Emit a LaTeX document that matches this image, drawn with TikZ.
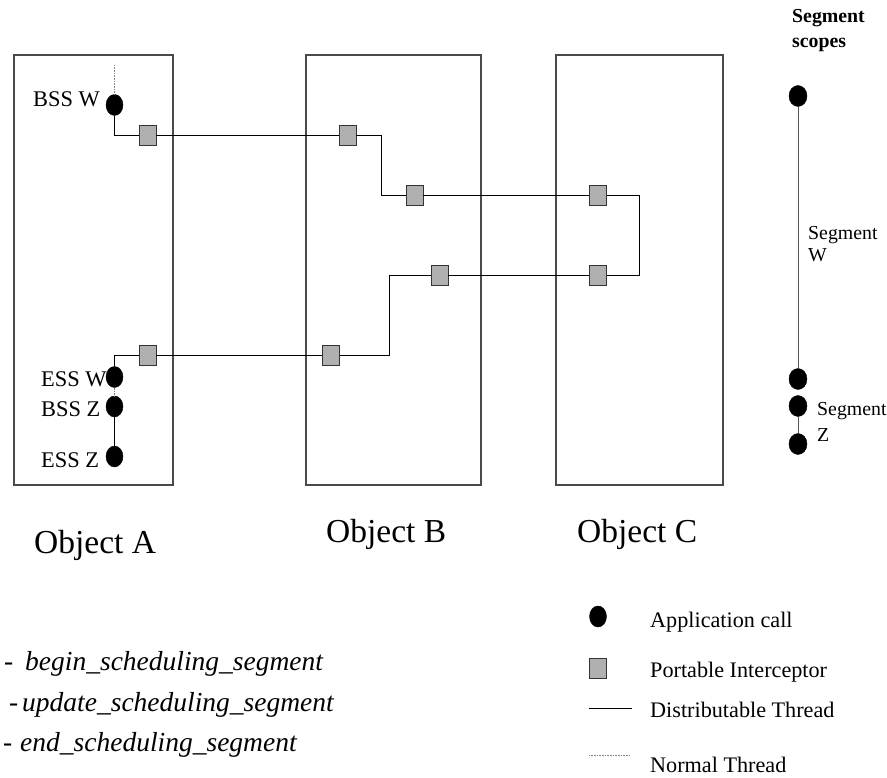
\documentclass[tikz,border=0pt]{standalone}
\usepackage{fontspec}
\setmainfont{Liberation Serif}
\usetikzlibrary{shapes.geometric}
\definecolor{boxline}{HTML}{4A4A4A}
\definecolor{icfill}{HTML}{B0B0B0}
\definecolor{scopeline}{HTML}{555555}
\tikzset{
  objbox/.style={draw=boxline, line width=1.1pt},
  appcall/.style={ellipse, fill=black, draw=black, minimum width=17pt, minimum height=21pt, inner sep=0pt},
  icpt/.style={rectangle, fill=icfill, draw=black!80, line width=0.9pt, minimum width=17pt, minimum height=20pt, inner sep=0pt},
  dthread/.style={draw=black, line width=0.8pt},
  nthread/.style={draw=gray, line width=0.6pt, dash pattern=on 0.8pt off 0.8pt},
  scopethread/.style={draw=scopeline, line width=0.8pt},
  lbl/.style={inner sep=0pt, font=\fontsize{22.4}{26}\selectfont},
  objlbl/.style={inner sep=0pt, font=\fontsize{33.5}{38}\selectfont},
  leglbl/.style={inner sep=0pt, font=\fontsize{22.2}{26}\selectfont},
  seglbl/.style={inner sep=0pt, font=\fontsize{19.8}{23}\selectfont},
  keylbl/.style={inner sep=0pt, font=\fontsize{27.5}{32}\selectfont}
}
\begin{document}
\begin{tikzpicture}[x=1pt,y=-1pt]
\useasboundingbox (0,0) rectangle (887,778);

% object boxes
\draw[objbox] (14,55) rectangle (173,485);
\draw[objbox] (306,55) rectangle (481,485);
\draw[objbox] (556,55) rectangle (723,485);

% application calls in object A
\node[appcall] (bssw) at (114.5,105) {};
\node[appcall] (essw) at (114.5,377) {};
\node[appcall] (bssz) at (114.5,406.5) {};
\node[appcall] (essz) at (114.5,456.5) {};
\coordinate (ntop) at (114.5,65);

% interceptors
\node[icpt] (iA1) at (147.5,135.5) {};
\node[icpt] (iB1) at (347.5,135.5) {};
\node[icpt] (iB2) at (414.5,195.5) {};
\node[icpt] (iC1) at (598,195.5) {};
\node[icpt] (iC2) at (598,275.3) {};
\node[icpt] (iB3) at (439.5,275.3) {};
\node[icpt] (iB4) at (331,355) {};
\node[icpt] (iA2) at (147.5,355) {};

\coordinate (k1) at (381,195.5);
\coordinate (k2) at (639.3,275.3);
\coordinate (k3) at (389.3,355);

% distributable thread
\draw[dthread] (bssw) |- (iA1);
\draw[dthread] (iA1) -- (iB1);
\draw[dthread] (iB1) -| (k1) -- (iB2);
\draw[dthread] (iB2) -- (iC1);
\draw[dthread] (iC1) -| (k2) -- (iC2);
\draw[dthread] (iC2) -- (iB3);
\draw[dthread] (iB3) -| (k3) -- (iB4);
\draw[dthread] (iB4) -- (iA2);
\draw[dthread] (iA2) -| (essw);
\draw[dthread] (bssz) -- (essz);

% normal thread
\draw[nthread] (ntop) -- (bssw);
\draw[nthread] (essw) -- (bssz);

% labels in object A
\node[lbl, anchor=base west] (tbssw) at (33,106.7) {BSS W};
\node[lbl, anchor=base west] (tessw) at (41,386.7) {ESS W};
\node[lbl, anchor=base west] (tbssz) at (41,416.7) {BSS Z};
\node[lbl, anchor=base west] (tessz) at (41,467.7) {ESS Z};

% object labels
\node[objlbl, anchor=base west] (oA) at (34,553) {Object A};
\node[objlbl, anchor=base west] (oB) at (326,542) {Object B};
\node[objlbl, anchor=base west] (oC) at (577,542) {Object C};

% segment scopes
\node[seglbl, anchor=base west] (ss1) at (792,23) {\bfseries Segment};
\node[seglbl, anchor=base west] (ss2) at (792,48) {\bfseries scopes};
\node[appcall, minimum width=18pt] (sw1) at (798,96) {};
\node[appcall, minimum width=18pt] (sw2) at (798,379) {};
\node[appcall, minimum width=18pt] (sz1) at (798,406) {};
\node[appcall, minimum width=18pt] (sz2) at (798,444) {};
\draw[scopethread] (sw1) -- (sw2);
\draw[scopethread] (sz1) -- (sz2);
\node[seglbl, anchor=base west] (swl1) at (808,240) {Segment};
\node[seglbl, anchor=base west] (swl2) at (808,262) {W};
\node[seglbl, anchor=base west] (szl1) at (817,415) {Segment};
\node[seglbl, anchor=base west] (szl2) at (817,441.7) {Z};

% legend
\node[appcall] (lgdot) at (598,616.5) {};
\node[icpt] (lgsq) at (598,668) {};
\coordinate (lgd1) at (589,708);
\coordinate (lgd2) at (632,708);
\coordinate (lgn1) at (589,755);
\coordinate (lgn2) at (630,755);
\draw[dthread] (lgd1) -- (lgd2);
\draw[nthread] (lgn1) -- (lgn2);
\node[leglbl, anchor=base west] (l1) at (650,627) {Application call};
\node[leglbl, anchor=base west] (l2) at (650,677) {Portable Interceptor};
\node[leglbl, anchor=base west] (l3) at (650,717) {Distributable Thread};
\node[leglbl, anchor=base west] (l4) at (650,772) {Normal Thread};

% key of call names
\node[keylbl, anchor=base west] (kp1) at (4,670) {-};
\node[keylbl, anchor=base west] (kt1) at (25,670) {\itshape begin\_scheduling\_segment};
\node[keylbl, anchor=base west] (kp2) at (9,711) {-};
\node[keylbl, anchor=base west] (kt2) at (22,711) {\itshape update\_scheduling\_segment};
\node[keylbl, anchor=base west] (kp3) at (3,751) {-};
\node[keylbl, anchor=base west] (kt3) at (20,751) {\itshape end\_scheduling\_segment};
\end{tikzpicture}
\end{document}
